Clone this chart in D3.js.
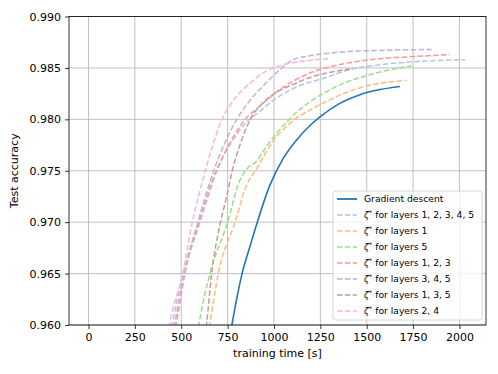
<!DOCTYPE html>
<html>
<head>
<meta charset="utf-8">
<script src="https://cdn.jsdelivr.net/npm/d3@7"></script>
<style>
  body { margin: 0; background: #fff; }
  text { font-family: "DejaVu Sans", sans-serif; fill: #000; }
</style>
</head>
<body>
<div id="chart"></div>
<script>
var svgWidth = 498;
var svgHeight = 374;

var margin = { top: 16.5, right: 12, bottom: 49, left: 69 };
var width = svgWidth - margin.left - margin.right;
var height = svgHeight - margin.top - margin.bottom;

// data: [training time (s), test accuracy]
var gradientDescent = [[750,0.9575],[775,0.9602],[828,0.9650],[870,0.9676],[910,0.9700],[978,0.9736],[1050,0.9762],[1122,0.9780],[1200,0.9795],[1260,0.9804],[1350,0.9815],[1464,0.9824],[1571,0.9829],[1679,0.9832]];
var layers12345 = [[430,0.9575],[454,0.9602],[510,0.9650],[592,0.9700],[688,0.9750],[765,0.9776],[845,0.9796],[925,0.9808],[1000,0.9819],[1104,0.9830],[1284,0.9841],[1400,0.9848],[1571,0.9853],[1751,0.9856],[2030,0.9858]];
var layers1 = [[630,0.9575],[655,0.9602],[700,0.9650],[790,0.9700],[850,0.9735],[907,0.9752],[950,0.9766],[1000,0.9780],[1050,0.9790],[1104,0.9799],[1194,0.9809],[1290,0.9818],[1374,0.9825],[1470,0.9831],[1571,0.9835],[1715,0.9838]];
var layers5 = [[575,0.9575],[597,0.9602],[655,0.9650],[750,0.9700],[810,0.9738],[850,0.9751],[880,0.9756],[900,0.9758],[935,0.9767],[969,0.9776],[1032,0.9790],[1110,0.9805],[1194,0.9817],[1284,0.9827],[1374,0.9835],[1470,0.9841],[1571,0.9846],[1742,0.9852]];
var layers123 = [[440,0.9575],[466,0.9602],[517,0.9650],[600,0.9700],[692,0.9750],[765,0.9778],[845,0.9800],[925,0.9813],[1032,0.9829],[1194,0.9845],[1374,0.9854],[1571,0.9859],[1750,0.9861],[1949,0.9863]];
var layers345 = [[450,0.9575],[475,0.9602],[520,0.9650],[590,0.9700],[675,0.9750],[735,0.9777],[800,0.9800],[860,0.9816],[950,0.9834],[1030,0.9848],[1104,0.9858],[1200,0.9862],[1284,0.9864],[1400,0.9866],[1571,0.9867],[1850,0.9868]];
var layers135 = [[615,0.9575],[637,0.9602],[664,0.9650],[712,0.9700],[745,0.9725],[775,0.9750],[820,0.9777],[873,0.9800],[940,0.9816],[1010,0.9826],[1104,0.9834],[1200,0.9841],[1284,0.9845],[1410,0.9849]];
var layers24 = [[415,0.9575],[439,0.9602],[508,0.9650],[560,0.9700],[630,0.9750],[670,0.9775],[720,0.9800],[780,0.9818],[870,0.9835],[940,0.9845],[1068,0.9854],[1180,0.9857],[1293,0.9859]];

var seriesNames = ["Gradient descent", "1, 2, 3, 4, 5", "1", "5", "1, 2, 3", "3, 4, 5", "1, 3, 5", "2, 4"];
var seriesData = [gradientDescent, layers12345, layers1, layers5, layers123, layers345, layers135, layers24];
var seriesColors = ["#1f77b4", "#aec7e8", "#ffbb78", "#98df8a", "#ff9896", "#c5b0d5", "#c49c94", "#f7b6d2"];

var xTicks = [0, 250, 500, 750, 1000, 1250, 1500, 1750, 2000];
var yTicks = [0.960, 0.965, 0.970, 0.975, 0.980, 0.985, 0.990];

var svg = d3.select("#chart")
  .append("svg")
  .attr("width", svgWidth)
  .attr("height", svgHeight);

var chartGroup = svg.append("g")
  .attr("transform", `translate(${margin.left}, ${margin.top})`);

var xScale = d3.scaleLinear().domain([-105, 2143]).range([0, width]);
var yScale = d3.scaleLinear().domain([0.96, 0.99]).range([height, 0]);

// grid
chartGroup.append("g")
  .selectAll("line")
  .data(xTicks)
  .enter()
  .append("line")
  .attr("x1", d => xScale(d)).attr("x2", d => xScale(d))
  .attr("y1", 0).attr("y2", height)
  .attr("stroke", "#b0b0b0").attr("stroke-width", 0.8);

chartGroup.append("g")
  .selectAll("line")
  .data(yTicks)
  .enter()
  .append("line")
  .attr("x1", 0).attr("x2", width)
  .attr("y1", d => yScale(d)).attr("y2", d => yScale(d))
  .attr("stroke", "#b0b0b0").attr("stroke-width", 0.8);

// clip
svg.append("defs").append("clipPath").attr("id", "plotclip")
  .append("rect").attr("width", width).attr("height", height);

var line = d3.line()
  .x(d => xScale(d[0]))
  .y(d => yScale(d[1]))
  .curve(d3.curveMonotoneX);

var linesGroup = chartGroup.append("g").attr("clip-path", "url(#plotclip)");

seriesData.forEach(function(data, i) {
  linesGroup.append("path")
    .datum(data)
    .attr("d", line)
    .attr("fill", "none")
    .attr("stroke", seriesColors[i])
    .attr("stroke-width", i === 0 ? 1.6 : 1.5)
    .attr("stroke-dasharray", i === 0 ? null : "5.5,2.4");
});

// axes
var bottomAxis = d3.axisBottom(xScale).tickValues(xTicks).tickSize(4).tickPadding(4).tickFormat(d3.format("d"));
var leftAxis = d3.axisLeft(yScale).tickValues(yTicks).tickSize(4).tickPadding(4).tickFormat(d3.format(".3f"));

var xAxis = chartGroup.append("g")
  .attr("transform", `translate(0, ${height})`)
  .call(bottomAxis);
var yAxis = chartGroup.append("g").call(leftAxis);

[xAxis, yAxis].forEach(function(ax) {
  ax.select(".domain").remove();
  ax.selectAll("text").style("font-size", "11px").style("font-family", "DejaVu Sans");
  ax.selectAll("line").attr("stroke", "#000").attr("stroke-width", 0.8);
});

chartGroup.append("rect")
  .attr("width", width).attr("height", height)
  .attr("fill", "none").attr("stroke", "#000").attr("stroke-width", 0.8);

// axis labels
chartGroup.append("text")
  .attr("x", width / 2)
  .attr("y", height + 32)
  .attr("text-anchor", "middle")
  .style("font-size", "11px")
  .text("training time [s]");

chartGroup.append("text")
  .attr("transform", "rotate(-90)")
  .attr("x", -height / 2)
  .attr("y", -51)
  .attr("text-anchor", "middle")
  .style("font-size", "11px")
  .text("Test accuracy");

// legend
var legend = svg.append("g").attr("transform", "translate(333, 191)");
legend.append("rect")
  .attr("width", 149).attr("height", 129)
  .attr("rx", 2.5)
  .attr("fill", "#fff").attr("fill-opacity", 0.8)
  .attr("stroke", "#cccccc").attr("stroke-width", 0.8);

seriesNames.forEach(function(name, i) {
  var y = 8 + i * 16;
  legend.append("line")
    .attr("x1", 4).attr("x2", 24)
    .attr("y1", y).attr("y2", y)
    .attr("stroke", seriesColors[i])
    .attr("stroke-width", i === 0 ? 1.8 : 1.5)
    .attr("stroke-dasharray", i === 0 ? null : "5.5,2.4");
  var t = legend.append("text")
    .attr("x", 31)
    .attr("y", y + 3.2)
    .style("font-size", "9.2px");
  if (i === 0) {
    t.text(name);
  } else {
    t.append("tspan").style("font-style", "italic").text("ζ");
    t.append("tspan").attr("dy", -3.5).style("font-size", "6.5px").text("*");
    t.append("tspan").attr("dy", 3.5).text(" for layers " + name);
  }
});
</script>
</body>
</html>
